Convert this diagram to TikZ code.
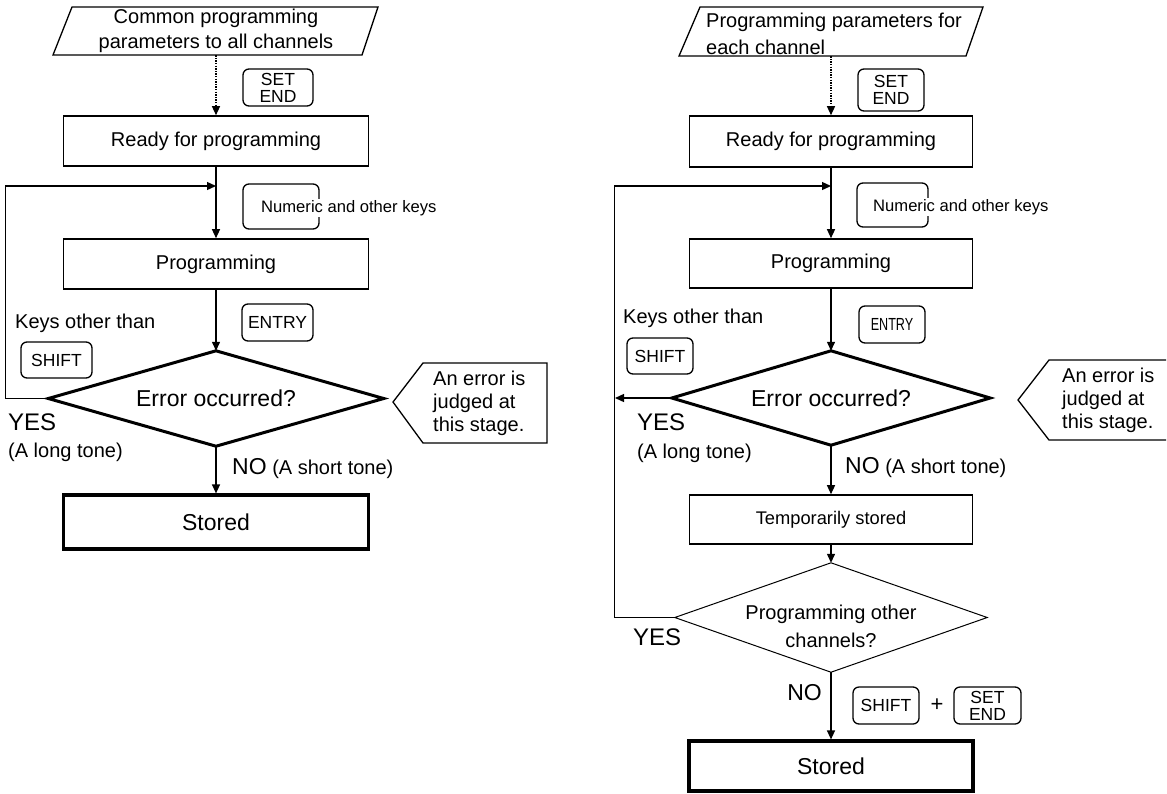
\documentclass[tikz,border=0pt]{standalone}
\usepackage{fontspec}
\setmainfont{Liberation Sans}
\usetikzlibrary{shapes.geometric,arrows.meta}
\newcommand{\fsz}[2]{\fontsize{#1}{#2}\selectfont}
\begin{document}
\begin{tikzpicture}[x=1pt,y=-1pt,
 box/.style={draw,line width=1.6pt,inner sep=0pt,font=\fsz{20}{24}},
 keybox/.style={draw,rounded corners=6pt,line width=1.3pt,inner sep=0pt,font=\fsz{17.5}{17},align=center},
 dec/.style={inner sep=0pt,align=center},
 conn/.style={line width=1.3pt,-{Triangle[length=9pt,width=8pt]}},
 lbl/.style={inner sep=0pt,anchor=west},
 txt/.style={font=\fsz{20}{24}},
]
\useasboundingbox (0,0) rectangle (1167,793);

% ================= LEFT CHART =================
\draw[line width=1.3pt] (72,7) -- (378,7) -- (362,55) -- (53,55) -- cycle;
\node[inner sep=0pt,minimum width=290pt,minimum height=48pt,align=center,font=\fsz{20}{25}] (p1) at (216,31) {Common programming\\parameters to all channels};

\node[box,minimum width=305pt,minimum height=50pt] (ready1) at (216,141) {Ready for programming};
\node[box,minimum width=305pt,minimum height=50pt] (prog1) at (216,264) {Programming};
\node[dec,minimum width=335pt,minimum height=95pt,font=\fsz{23}{26}] (err1) at (216,398.5) {Error occurred?};
\draw[line width=3pt] (err1.north) -- (err1.east) -- (err1.south) -- (err1.west) -- cycle;
\node[box,line width=3.2pt,minimum width=305pt,minimum height=54pt,font=\fsz{23}{26}] (stored1) at (216,522) {Stored};

\node[keybox,minimum width=70pt,minimum height=37pt] (setend1) at (278,87.5) {SET\\END};
\node[keybox,minimum width=76pt,minimum height=45pt] (num1) at (281,206.5) {};
\node[lbl,fill=white,inner sep=1pt,font=\fsz{16.6}{20}] (numt1) at (260,208) {Numeric and other keys};
\node[keybox,minimum width=71pt,minimum height=37pt] (entry1) at (277.5,322.5) {ENTRY};
\node[keybox,minimum width=71pt,minimum height=36pt] (shift1) at (56.5,360) {SHIFT};

\node[lbl,txt] (keys1) at (15,323) {Keys other than};
\node[lbl,font=\fsz{24}{26}] (yes1) at (8,422) {YES};
\node[lbl,txt] (long1) at (8,452) {(A long tone)};
\node[lbl,txt] (no1) at (232,469) {{\fsz{23}{26}NO} (A short tone)};

\draw[line width=1.3pt] (393,402) -- (423,363) -- (547,363) -- (547,443) -- (423,443) -- cycle;
\node[lbl,txt,align=left,font=\fsz{20}{23}] (call1) at (433,403) {An error is\\judged at\\this stage.};

\coordinate (j1) at (216,186);
\draw[conn,dash pattern=on 1.3pt off 1.3pt] (p1.south) -- (ready1.north);
\draw[conn] (ready1.south) -- (prog1.north);
\draw[conn] (prog1.south) -- (err1.north);
\draw[conn] (err1.south) -- (stored1.north);
\draw[conn] (err1.west) -- ++(-43,0) |- (j1);

% ================= RIGHT CHART =================
\draw[line width=1.3pt] (700,7) -- (983,7) -- (966,56) -- (679,56) -- cycle;
\node[inner sep=0pt,minimum width=280pt,minimum height=49pt] (p2) at (831,31.5) {};
\node[lbl,align=left,font=\fsz{20}{27}] (p2t) at (706,34) {Programming parameters for\\each channel};

\node[box,minimum width=283pt,minimum height=51pt] (ready2) at (831,141.5) {Ready for programming};
\node[box,minimum width=283pt,minimum height=49pt] (prog2) at (831,263.5) {Programming};
\node[dec,minimum width=318pt,minimum height=94pt,font=\fsz{23}{26}] (err2) at (831,398) {Error occurred?};
\draw[line width=3pt] (err2.north) -- (err2.east) -- (err2.south) -- (err2.west) -- cycle;
\node[box,minimum width=283pt,minimum height=49pt,font=\fsz{18.3}{22}] (temp2) at (831,519.5) {Temporarily stored};
\node[dec,minimum width=312pt,minimum height=109pt] (d2) at (831,617.5) {};
\draw[line width=1pt] (d2.north) -- (d2.east) -- (d2.south) -- (d2.west) -- cycle;
\node[align=center,inner sep=0pt,font=\fsz{20}{28}] (d2t) at (831,626) {Programming other\\channels?};
\node[box,line width=3.2pt,minimum width=284pt,minimum height=50pt,font=\fsz{23}{26}] (stored2) at (831,766) {Stored};

\node[keybox,minimum width=66pt,minimum height=42pt] (setend2) at (891,90) {SET\\END};
\node[keybox,minimum width=71pt,minimum height=44pt] (num2) at (892.5,205) {};
\node[lbl,fill=white,inner sep=1pt,font=\fsz{16.6}{20}] (numt2) at (872,207) {Numeric and other keys};
\node[keybox,minimum width=66pt,minimum height=37pt] (entry2) at (892,324.5) {\scalebox{0.72}[1]{ENTRY}};
\node[keybox,minimum width=66pt,minimum height=36pt] (shift2) at (660,356) {SHIFT};
\node[keybox,minimum width=66pt,minimum height=37pt] (shift3) at (886,705.5) {SHIFT};
\node[inner sep=0pt,font=\fsz{22}{24}] (plus) at (937,705) {+};
\node[keybox,minimum width=67pt,minimum height=37pt] (setend3) at (987.5,705.5) {SET\\END};

\node[lbl,txt] (keys2) at (623,318) {Keys other than};
\node[lbl,font=\fsz{24}{26}] (yes2) at (637,422) {YES};
\node[lbl,txt] (long2) at (637,453) {(A long tone)};
\node[lbl,txt] (no2) at (845,468) {{\fsz{23}{26}NO} (A short tone)};
\node[lbl,font=\fsz{24}{26}] (yes3) at (633,637) {YES};
\node[inner sep=0pt,anchor=east,font=\fsz{23}{26}] (no3) at (822,693) {NO};

\draw[line width=1.3pt] (1166,440) -- (1049,440) -- (1018,400) -- (1049,360) -- (1166,360);
\node[lbl,align=left,font=\fsz{20}{23}] (call2) at (1062,400) {An error is\\judged at\\this stage.};

\coordinate (j2) at (831,186);
\coordinate (j3) at (615,398);
\draw[conn,dash pattern=on 1.3pt off 1.3pt] (p2.south) -- (ready2.north);
\draw[conn] (ready2.south) -- (prog2.north);
\draw[conn] (prog2.south) -- (err2.north);
\draw[conn] (err2.south) -- (temp2.north);
\draw[conn] (temp2.south) -- (d2.north);
\draw[conn] (d2.south) -- (stored2.north);
\draw[conn] (err2.west) -- (j3);
\draw[conn] (d2.west) -- ++(-60,0) |- (j2);
\end{tikzpicture}
\end{document}
